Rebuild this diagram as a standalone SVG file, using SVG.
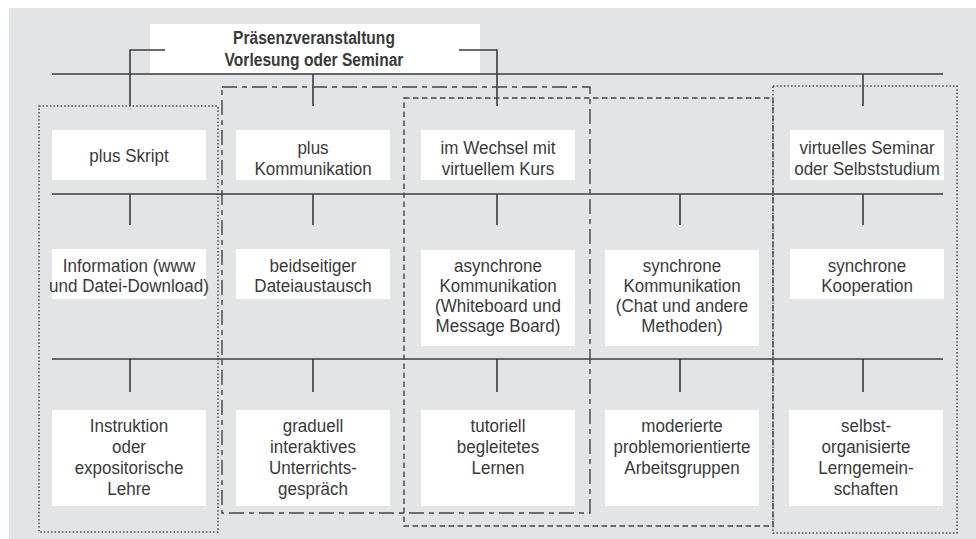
<svg xmlns="http://www.w3.org/2000/svg" width="976" height="539" viewBox="0 0 976 539">
<style>
.bg{fill:#e3e4e5}
.box{fill:#ffffff}
.ln{stroke:#3d3d3d;stroke-width:1.6;fill:none}
.t{font-family:"Liberation Sans",Arial,sans-serif;font-size:18.5px;fill:#3a3a3a;text-anchor:middle}
.tb{font-family:"Liberation Sans",Arial,sans-serif;font-size:19px;font-weight:bold;fill:#3a3a3a;text-anchor:middle}
.dot{stroke:#4a4a4a;stroke-width:1.5;fill:none;stroke-dasharray:1.5 2.1}
.dashdot{stroke:#444;stroke-width:1.4;fill:none;stroke-dasharray:15 5 5 5}
.dash{stroke:#444;stroke-width:1.4;fill:none;stroke-dasharray:5.5 3.5}
</style>
<rect class="bg" x="9" y="8" width="967" height="531"/>

<g id="title">
<rect class="box" x="150" y="24" width="330" height="49"/>
<text class="tb" transform="translate(314 0) scale(0.82 1)"><tspan x="0" y="44.3">Präsenzveranstaltung</tspan><tspan x="0" y="65.6">Vorlesung oder Seminar</tspan></text>
</g>

<g id="connectors">
<path class="ln" d="M52 74H943M52 194H943M52 359H943"/>
<path class="ln" d="M165 50H130V106M459 50H497V106M313 74V106M863 74V106"/>
<path class="ln" d="M130 194V225M313 194V225M497 194V225M680 194V225M863 194V225"/>
<path class="ln" d="M130 359V392M313 359V392M497 359V392M680 359V392M863 359V392"/>
</g>

<g id="groupings">
<rect class="dot" x="39" y="106" width="179" height="426"/>
<rect class="dashdot" x="222" y="87" width="368" height="426"/>
<rect class="dash" x="404" y="98" width="369" height="428"/>
<rect class="dot" x="773" y="86" width="184" height="447"/>
</g>

<g id="r1c1"><rect class="box" x="52" y="130" width="154" height="50"/>
<text class="t" transform="translate(129 0) scale(0.92 1)"><tspan x="0" y="161.7">plus Skript</tspan></text></g>
<g id="r1c2"><rect class="box" x="236" y="130" width="154" height="50"/>
<text class="t" transform="translate(313 0) scale(0.92 1)"><tspan x="0" y="154">plus</tspan><tspan x="0" y="175">Kommunikation</tspan></text></g>
<g id="r1c3"><rect class="box" x="421" y="130" width="154" height="50"/>
<text class="t" transform="translate(498 0) scale(0.92 1)"><tspan x="0" y="154">im Wechsel mit</tspan><tspan x="0" y="175">virtuellem Kurs</tspan></text></g>
<g id="r1c5"><rect class="box" x="790" y="130" width="154" height="50"/>
<text class="t" transform="translate(867 0) scale(0.92 1)"><tspan x="0" y="154">virtuelles Seminar</tspan><tspan x="0" y="175">oder Selbststudium</tspan></text></g>

<g id="r2c1"><rect class="box" x="52" y="249" width="154" height="50"/>
<text class="t" transform="translate(129 0) scale(0.92 1)"><tspan x="0" y="272.3">Information (www</tspan><tspan x="0" y="292.3">und Datei-Download)</tspan></text></g>
<g id="r2c2"><rect class="box" x="236" y="249" width="154" height="50"/>
<text class="t" transform="translate(313 0) scale(0.92 1)"><tspan x="0" y="272.3">beidseitiger</tspan><tspan x="0" y="292.3">Dateiaustausch</tspan></text></g>
<g id="r2c3"><rect class="box" x="421" y="250" width="154" height="96"/>
<text class="t" transform="translate(498 0) scale(0.92 1)"><tspan x="0" y="272.3">asynchrone</tspan><tspan x="0" y="292.3">Kommunikation</tspan><tspan x="0" y="312.3">(Whiteboard und</tspan><tspan x="0" y="332.3">Message Board)</tspan></text></g>
<g id="r2c4"><rect class="box" x="605" y="250" width="154" height="96"/>
<text class="t" transform="translate(682 0) scale(0.92 1)"><tspan x="0" y="272.3">synchrone</tspan><tspan x="0" y="292.3">Kommunikation</tspan><tspan x="0" y="312.3">(Chat und andere</tspan><tspan x="0" y="332.3">Methoden)</tspan></text></g>
<g id="r2c5"><rect class="box" x="790" y="249" width="154" height="50"/>
<text class="t" transform="translate(867 0) scale(0.92 1)"><tspan x="0" y="272.3">synchrone</tspan><tspan x="0" y="292.3">Kooperation</tspan></text></g>

<g id="r3c1"><rect class="box" x="52" y="410" width="154" height="96"/>
<text class="t" transform="translate(129 0) scale(0.92 1)"><tspan x="0" y="432.5">Instruktion</tspan><tspan x="0" y="453.5">oder</tspan><tspan x="0" y="474.5">expositorische</tspan><tspan x="0" y="495.5">Lehre</tspan></text></g>
<g id="r3c2"><rect class="box" x="236" y="410" width="154" height="96"/>
<text class="t" transform="translate(313 0) scale(0.92 1)"><tspan x="0" y="432.5">graduell</tspan><tspan x="0" y="453.5">interaktives</tspan><tspan x="0" y="474.5">Unterrichts-</tspan><tspan x="0" y="495.5">gespräch</tspan></text></g>
<g id="r3c3"><rect class="box" x="421" y="410" width="154" height="96"/>
<text class="t" transform="translate(498 0) scale(0.92 1)"><tspan x="0" y="432.5">tutoriell</tspan><tspan x="0" y="453.5">begleitetes</tspan><tspan x="0" y="474.5">Lernen</tspan></text></g>
<g id="r3c4"><rect class="box" x="605" y="410" width="154" height="96"/>
<text class="t" transform="translate(682 0) scale(0.92 1)"><tspan x="0" y="432.5">moderierte</tspan><tspan x="0" y="453.5">problemorientierte</tspan><tspan x="0" y="474.5">Arbeitsgruppen</tspan></text></g>
<g id="r3c5"><rect class="box" x="789" y="410" width="154" height="96"/>
<text class="t" transform="translate(866 0) scale(0.92 1)"><tspan x="0" y="432.5">selbst-</tspan><tspan x="0" y="453.5">organisierte</tspan><tspan x="0" y="474.5">Lerngemein-</tspan><tspan x="0" y="495.5">schaften</tspan></text></g>
</svg>
